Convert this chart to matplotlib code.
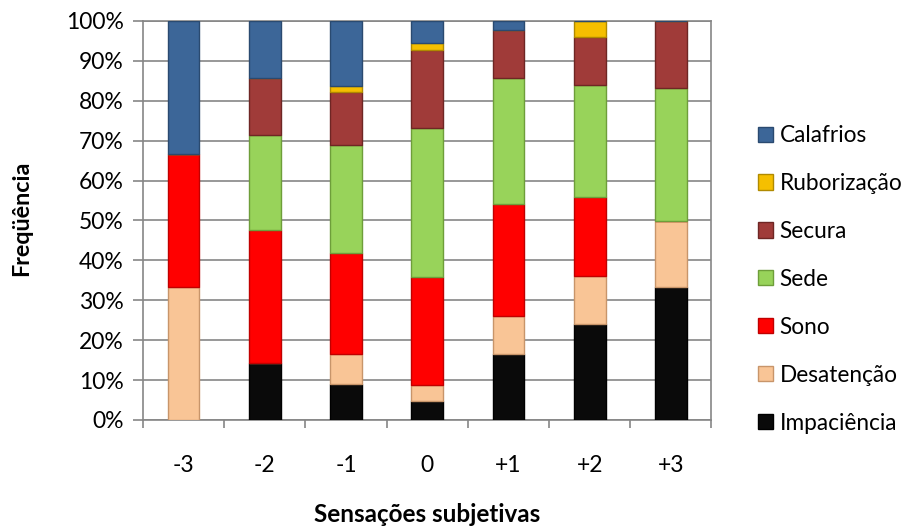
import matplotlib
matplotlib.use("Agg")
import matplotlib.pyplot as plt
import numpy as np
from matplotlib.ticker import PercentFormatter, FixedLocator
from matplotlib.patches import Patch

categories = ["-3", "-2", "-1", "0", "+1", "+2", "+3"]
series_names = ["Impaciência", "Desatenção", "Sono", "Sede", "Secura", "Ruborização", "Calafrios"]
impaciencia = [0.0, 14.3, 9.0, 4.8, 16.5, 24.0, 33.3]
desatencao = [33.3, 0.0, 7.5, 4.0, 9.6, 12.0, 16.7]
sono = [33.3, 33.3, 25.4, 27.1, 28.1, 20.0, 0.0]
sede = [0.0, 23.8, 26.9, 37.3, 31.6, 28.0, 33.3]
secura = [0.0, 14.3, 13.4, 19.6, 12.0, 12.0, 16.7]
ruborizacao = [0.0, 0.0, 1.5, 1.7, 0.0, 4.0, 0.0]
calafrios = [33.4, 14.3, 16.3, 5.5, 2.2, 0.0, 0.0]

values = [impaciencia, desatencao, sono, sede, secura, ruborizacao, calafrios]
colors = ["#0a0a0a", "#f9c596", "#ff0000", "#98d35a", "#a03b39", "#f5bf00", "#3c6698"]
edges = ["#000000", "#c8956a", "#c00000", "#6e9e3a", "#6e2624", "#b08a00", "#2a4a70"]

plt.rcParams['font.family'] = ['Lato', 'DejaVu Sans']

fig = plt.figure(figsize=(9.12, 5.28), dpi=100)
W, H = 912, 528
ax = fig.add_axes([143 / W, (H - 420) / H, (711.5 - 143) / W, (420 - 21) / H])

x = np.arange(len(categories))
data = np.array(values, dtype=float)
totals = data.sum(axis=0)
frac = data / totals
bottom = np.zeros(len(categories))
for name, vals, c, e in zip(series_names, frac, colors, edges):
    ax.bar(x, vals, 0.39, bottom=bottom, color=c, edgecolor=e, linewidth=1.0,
           label=name, zorder=3)
    bottom += vals

ax.set_xlim(-0.5, len(categories) - 0.5)
ax.set_ylim(0, 1)
ax.yaxis.set_major_locator(FixedLocator(np.arange(0, 1.01, 0.1)))
ax.yaxis.set_major_formatter(PercentFormatter(1.0, decimals=0))
ax.grid(axis='y', color='#868686', linewidth=1.2, zorder=0)
ax.set_axisbelow(True)

ax.set_xticks(x)
ax.set_xticklabels(categories)
ax.set_xticks(np.arange(-0.5, len(categories), 1.0), minor=True)
ax.tick_params(axis='x', which='major', length=0, pad=25, labelsize=16.5)
ax.tick_params(axis='x', which='minor', length=6, width=1.2, color='#868686', direction='out')
ax.tick_params(axis='y', which='major', length=7, width=1.2, color='#868686', direction='out',
               labelsize=16.5, pad=7)
for s in ax.spines.values():
    s.set_color('#868686')
    s.set_linewidth(1.2)

fig.text(22 / W, 1 - 218 / H, "Freqüência", rotation=90, ha='center', va='center',
         fontsize=16.8, fontweight='bold')
fig.text(427 / W, 1 - 514 / H, "Sensações subjetivas", ha='center', va='center',
         fontsize=17.5, fontweight='bold')

handles = [Patch(facecolor=c, edgecolor=e, linewidth=1.0) for c, e in zip(colors, edges)]
leg = fig.legend(handles[::-1], series_names[::-1], loc='upper left',
                 bbox_to_anchor=(749 / W, 1 - 116 / H), frameon=False, fontsize=16.3,
                 handlelength=0.65, handleheight=0.65, handletextpad=0.3, labelspacing=1.19,
                 borderaxespad=0)

fig.savefig("out.png", dpi=100)
